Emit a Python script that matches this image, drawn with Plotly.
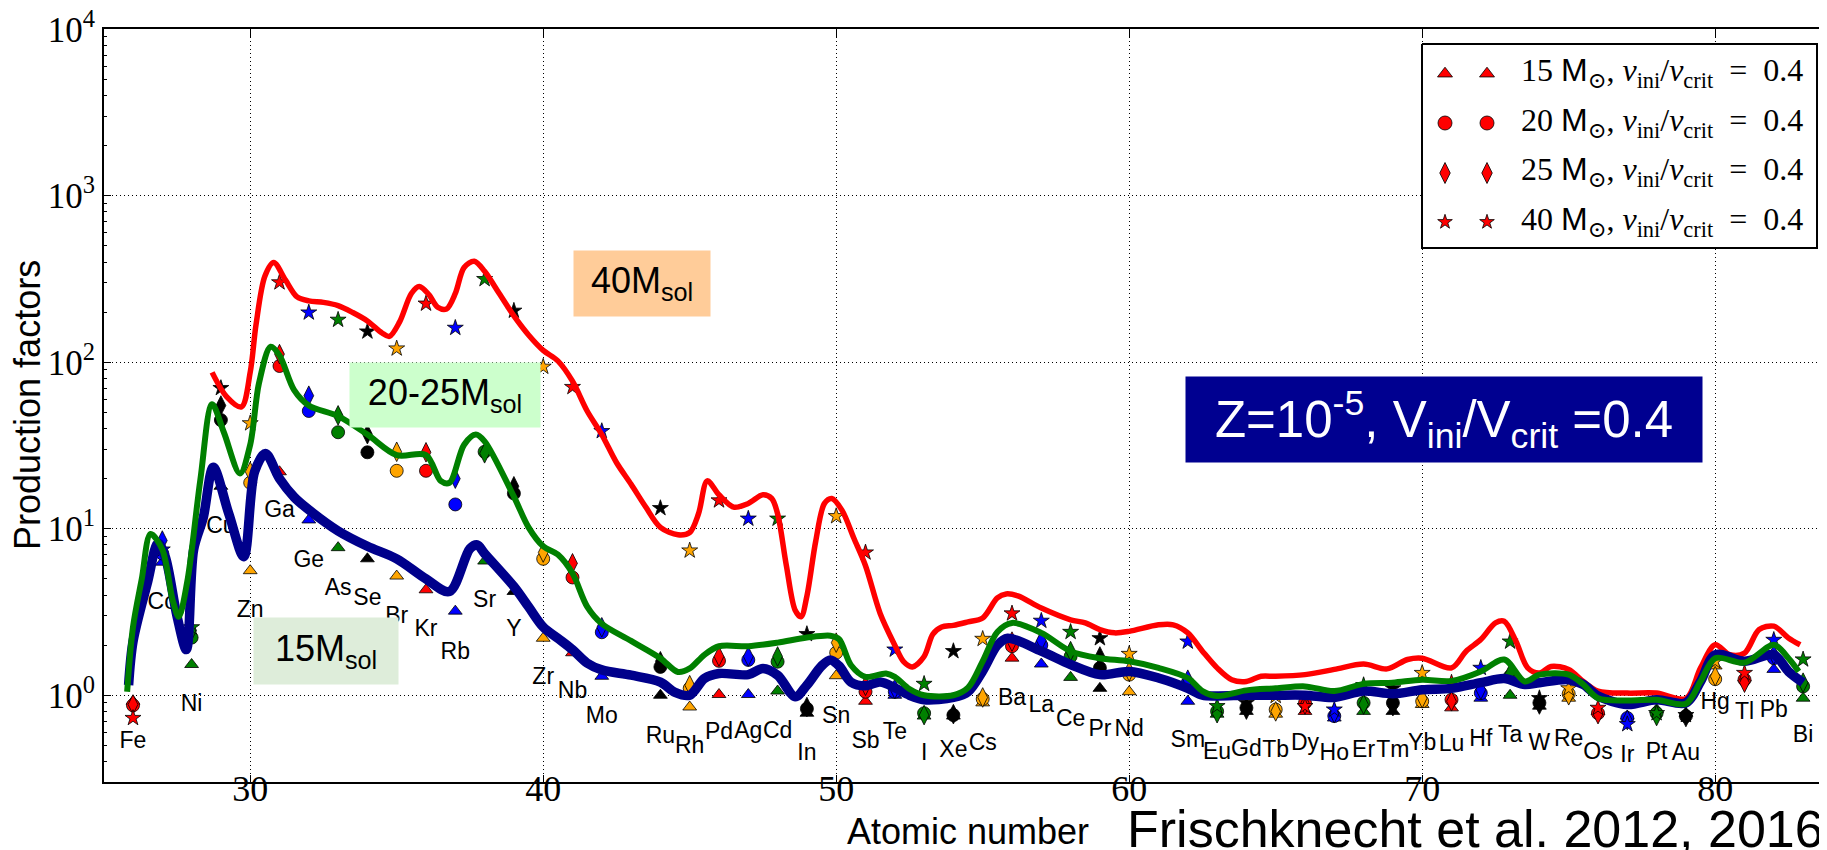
import math
import plotly.graph_objects as go

W, H = 1827, 850
# plot-area frame in pixels (left, right, top, bottom)
PL, PR, PT, PB = 95.7, 1824.4, 21.0, 774.3

elements = ["Fe", "Co", "Ni", "Cu", "Zn", "Ga", "Ge", "As", "Se", "Br", "Kr", "Rb", "Sr", "Y",
            "Zr", "Nb", "Mo", "Ru", "Rh", "Pd", "Ag", "Cd", "In", "Sn", "Sb", "Te", "I", "Xe",
            "Cs", "Ba", "La", "Ce", "Pr", "Nd", "Sm", "Eu", "Gd", "Tb", "Dy", "Ho", "Er", "Tm",
            "Yb", "Lu", "Hf", "Ta", "W", "Re", "Os", "Ir", "Pt", "Au", "Hg", "Tl", "Pb", "Bi"]
atomic_number = [26, 27, 28, 29, 30, 31, 32, 33, 34, 35, 36, 37, 38, 39, 40, 41, 42, 44, 45, 46,
                 47, 48, 49, 50, 51, 52, 53, 54, 55, 56, 57, 58, 59, 60, 62, 63, 64, 65, 66, 67,
                 68, 69, 70, 71, 72, 73, 74, 75, 76, 77, 78, 79, 80, 81, 82, 83]

# production factors per model (triangles / circles / diamonds / stars)
pf_15 = [0.92, 6.3, 1.53, 18, 5.6, 22, 11.3, 7.7, 6.6, 5.2, 4.3, 3.2, 6.4, 4.2, 2.2, 1.8, 1.3,
         1.0, 0.85, 1.01, 1.01, 1.06, 0.78, 1.31, 0.92, 1.0, 0.75, 0.75, 0.9, 1.67, 1.54, 1.28,
         1.1, 1.05, 0.92, 0.77, 0.8, 0.77, 0.8, 0.73, 0.8, 0.8, 0.88, 0.84, 0.96, 1.0, 0.86,
         0.96, 0.80, 0.75, 0.82, 0.78, 1.5, 1.27, 1.43, 0.96]
pf_20 = [0.87, 7.1, 2.22, 45, 18.9, 95, 51, 38, 28.8, 22.3, 22.3, 14, 29, 16.3, 6.6, 5.1, 2.39,
         1.48, 1.1, 1.61, 1.63, 1.59, 0.83, 1.8, 1.05, 1.05, 0.78, 0.76, 0.95, 1.97, 2.0, 1.71,
         1.46, 1.33, 1.19, 0.80, 0.84, 0.82, 0.9, 0.75, 0.9, 0.9, 0.92, 0.94, 1.03, 1.3, 0.9,
         1.02, 0.78, 0.73, 0.78, 0.75, 1.25, 1.24, 1.67, 1.13]
pf_25 = [0.88, 8.5, 2.45, 55, 22, 112, 63, 48, 37, 29, 28.8, 20, 28.4, 18, 7.2, 6.2, 2.56,
         1.6, 1.15, 1.71, 1.71, 1.71, 0.85, 2.07, 1.14, 1.09, 0.76, 0.77, 0.97, 2.1, 2.13, 1.84,
         1.71, 1.39, 1.24, 0.78, 0.82, 0.80, 0.88, 0.78, 0.88, 0.86, 0.96, 0.92, 1.08, 1.35, 0.88,
         1.0, 0.77, 0.71, 0.75, 0.74, 1.3, 1.19, 1.75, 1.19]
pf_40 = [0.73, 7.5, 2.56, 70, 43, 302, 199, 180, 153, 121, 225, 161, 316, 204, 94, 71, 38.6,
         13.3, 7.4, 14.8, 11.5, 11.5, 2.33, 11.9, 7.2, 1.88, 1.17, 1.84, 2.18, 3.1, 2.8, 2.4,
         2.2, 1.77, 2.1, 0.86, 0.9, 0.99, 0.86, 0.82, 1.15, 1.1, 1.36, 1.19, 1.46, 2.1, 0.96,
         1.1, 0.84, 0.67, 0.78, 0.76, 1.6, 1.36, 2.15, 1.64]
label_y = [0.52, 3.58, 0.87, 10.2, 3.18, 12.8, 6.4, 4.33, 3.75, 2.96, 2.45, 1.8, 3.66, 2.45,
           1.26, 1.04, 0.74, 0.56, 0.49, 0.59, 0.6, 0.6, 0.44, 0.74, 0.52, 0.59, 0.44, 0.46,
           0.51, 0.94, 0.86, 0.71, 0.62, 0.62, 0.53, 0.45, 0.47, 0.46, 0.51, 0.44, 0.46, 0.46,
           0.51, 0.5, 0.54, 0.57, 0.51, 0.54, 0.45, 0.43, 0.45, 0.44, 0.9, 0.78, 0.8, 0.57]

# smoothed trend curves
curve15_x = [25.85, 26, 26.5, 26.85, 27.1, 27.5, 27.82, 28.07, 28.4, 28.74, 29.27, 29.78, 30.15,
             30.52, 31, 31.5, 32, 33, 34, 35, 36, 36.8, 37.5, 37.75, 38, 39, 39.5, 40, 40.5, 41,
             41.5, 42, 43, 44, 44.5, 45, 45.5, 46, 47, 47.5, 48, 48.6, 49, 49.5, 49.8, 50.1, 50.5,
             51, 51.5, 52, 52.5, 53, 54, 54.5, 55, 55.5, 55.85, 57, 58, 59, 60, 61, 62, 62.5, 63,
             64, 65, 66, 67, 68, 69, 70, 71, 72, 72.8, 73.5, 74, 75, 75.5, 76, 77, 78, 79, 79.5,
             80, 81, 82, 82.5, 83]
curve15_y = [1.15, 2.1, 4.8, 8.2, 6.8, 3.0, 1.88, 7.5, 11.7, 23.4, 12.3, 6.8, 22, 28.3, 20, 15.5,
             13, 9.7, 7.85, 6.6, 5.0, 4.2, 7.6, 8.0, 7.1, 4.5, 3.4, 2.57, 2.2, 1.88, 1.56, 1.42,
             1.32, 1.2, 1.04, 1.0, 1.26, 1.35, 1.33, 1.45, 1.32, 0.98, 1.15, 1.5, 1.63, 1.5, 1.2,
             1.14, 1.2, 1.11, 1.0, 0.94, 0.97, 1.05, 1.4, 2.0, 2.2, 1.84, 1.53, 1.33, 1.39, 1.27,
             1.1, 1.0, 0.99, 1.0, 1.0, 1.0, 0.97, 1.06, 1.02, 1.08, 1.1, 1.19, 1.26, 1.16, 1.19,
             1.24, 1.16, 0.99, 0.88, 0.94, 0.9, 1.21, 1.75, 1.6, 1.75, 1.39, 1.19]
curve2025_x = [25.8, 26, 26.3, 26.6, 27.0, 27.35, 27.56, 27.85, 28.3, 28.7, 29.1, 29.65, 30.0,
               30.3, 30.7, 31, 31.5, 32, 33, 34, 35, 36, 36.5, 36.8, 37.3, 37.7, 38, 39, 39.5,
               40, 40.5, 41, 41.5, 42, 43, 44, 44.6, 45, 45.5, 46, 47, 48, 49, 49.8, 50.1, 50.5,
               51, 51.7, 52, 52.5, 53, 54, 54.5, 55, 55.5, 56, 57, 58, 59, 60, 61, 62, 62.5, 63,
               64, 65, 66, 67, 68, 69, 70, 71, 72, 72.8, 73.5, 74, 75, 75.5, 76, 77, 78, 79,
               79.5, 80, 81, 82, 82.5, 82.85]
curve2025_y = [1.05, 2.57, 5.0, 9.3, 7.5, 3.75, 2.96, 4.8, 19.8, 56, 38, 21.5, 32, 75, 124, 110,
               68, 55, 47.5, 36.8, 27.7, 27.7, 19.4, 18.9, 32, 36.8, 33.5, 15.6, 10.2, 7.85, 7.0,
               5.4, 3.41, 2.69, 2.12, 1.67, 1.38, 1.45, 1.75, 1.97, 1.97, 2.07, 2.22, 2.28, 2.17,
               1.52, 1.29, 1.35, 1.29, 1.09, 1.0, 1.0, 1.11, 1.6, 2.4, 2.72, 2.37, 1.84, 1.67,
               1.6, 1.46, 1.27, 1.06, 0.99, 1.07, 1.1, 1.13, 1.06, 1.17, 1.19, 1.24, 1.22, 1.39,
               1.64, 1.21, 1.33, 1.33, 1.16, 0.96, 0.93, 0.94, 0.89, 1.21, 1.67, 1.57, 2.01,
               1.67, 1.39]
curve40_x = [28.7, 29.2, 29.7, 30.0, 30.2, 30.5, 30.8, 31.2, 31.6, 32, 32.5, 33, 33.5, 34, 34.5,
             34.75, 35.1, 35.5, 35.77, 36.1, 36.4, 36.7, 37, 37.3, 37.65, 38, 38.5, 39, 39.5, 40,
             40.5, 41, 41.5, 42, 42.5, 43, 43.5, 44, 44.6, 45, 45.3, 45.6, 46, 46.5, 47, 47.5,
             47.8, 48, 48.3, 48.6, 48.8, 49, 49.3, 49.6, 49.85, 50.2, 50.6, 51, 51.5, 52, 52.3,
             52.6, 53, 53.3, 53.6, 54, 54.5, 55, 55.5, 55.8, 56.2, 57, 58, 58.5, 59, 59.5, 60,
             61, 61.5, 62, 62.5, 63, 63.5, 64, 64.5, 65, 66, 67, 68, 68.8, 69.5, 70, 71, 71.5,
             72, 72.5, 72.8, 73.2, 73.6, 74, 74.4, 75, 75.5, 76, 77, 78, 79, 79.5, 80, 80.5, 81,
             81.5, 82, 82.5, 82.9]
curve40_y = [87, 62, 54, 87, 169, 329, 398, 313, 247, 234, 229, 219, 199, 177, 150, 143, 175,
             259, 285, 255, 214, 209, 259, 371, 405, 352, 259, 190, 146, 118, 102, 77, 51, 36.8,
             25, 18.5, 13.5, 10.2, 9.2, 9.5, 12.3, 19.4, 16, 13.5, 14.2, 16, 15.2, 12.3, 6.0,
             3.24, 2.96, 3.94, 8.4, 14.2, 15.2, 12.9, 8.8, 6.0, 3.1, 2.0, 1.59, 1.48, 1.71, 2.33,
             2.57, 2.63, 2.76, 2.91, 3.84, 4.06, 3.95, 3.34, 2.84, 2.72, 2.48, 2.37, 2.42, 2.65,
             2.65, 2.37, 1.84, 1.46, 1.24, 1.21, 1.3, 1.3, 1.33, 1.43, 1.54, 1.44, 1.64, 1.67,
             1.46, 1.84, 2.16, 2.72, 2.78, 2.11, 1.46, 1.36, 1.49, 1.43, 1.21, 1.06, 1.03, 1.03,
             0.955, 1.46, 2.01, 1.75, 1.79, 2.48, 2.6, 2.21, 2.01]

model_names = ["15", "20", "25", "40"]
palette = ["#FF0000", "#0000FF", "#008000", "#000000", "#FFA500"]
point_colors = [palette[(z - 26) % 5] for z in atomic_number]

LABEL_FONT = "Liberation Sans, Arial, sans-serif"
SERIF = "Liberation Serif, DejaVu Serif, serif"


def px(xp):
    return xp / W


def py(yp):
    return 1 - yp / H


fig = go.Figure()

# element names (under the curves)
fig.add_trace(go.Scatter(x=atomic_number, y=label_y, mode="text", text=elements,
                         textposition="middle center",
                         textfont=dict(family=LABEL_FONT, size=23, color="black"),
                         hoverinfo="skip", showlegend=False))

marker_specs = [(pf_15, "triangle-up", 12), (pf_20, "circle", 13),
                (pf_25, "diamond-tall", 14), (pf_40, "star", 12)]
for vals, sym, size in marker_specs:
    fig.add_trace(go.Scatter(x=atomic_number, y=vals, mode="markers",
                             marker=dict(symbol=sym, size=size, color=point_colors,
                                         line=dict(color="black", width=0.8)),
                             showlegend=False))

for cx, cy, col, wid in [(curve40_x, curve40_y, "#FF0000", 5.5),
                         (curve15_x, curve15_y, "#00008B", 9.5),
                         (curve2025_x, curve2025_y, "#008000", 6)]:
    fig.add_trace(go.Scatter(x=cx, y=cy, mode="lines",
                             line=dict(color=col, width=wid, shape="spline", smoothing=0.9),
                             showlegend=False))

# custom legend (two sample markers per entry, like the original)
LEG = dict(l=1414, r=1809, t=36, b=240)
fig.add_trace(go.Scatter(x=[LEG["l"], LEG["r"], LEG["r"], LEG["l"], LEG["l"]],
                         y=[LEG["t"], LEG["t"], LEG["b"], LEG["b"], LEG["t"]],
                         mode="lines", fill="toself", fillcolor="white",
                         line=dict(color="black", width=2), xaxis="x2", yaxis="y2",
                         hoverinfo="skip", showlegend=False))
row_y = [65.7, 115, 165, 214]
legend_sizes = [13, 14, 15, 11]
for (vals, sym, size), lsz, ry in zip(marker_specs, legend_sizes, row_y):
    fig.add_trace(go.Scatter(x=[1437, 1479], y=[ry, ry], mode="markers",
                             marker=dict(symbol=sym, size=lsz, color="#FF0000",
                                         line=dict(color="black", width=0.8)),
                             xaxis="x2", yaxis="y2", hoverinfo="skip", showlegend=False))

minor_vals = [m * 10 ** e for e in range(-1, 4) for m in range(2, 10) if m * 10 ** e >= 0.3]

fig.update_layout(
    width=W, height=H, margin=dict(l=0, r=0, t=0, b=0, autoexpand=False),
    paper_bgcolor="white", plot_bgcolor="rgba(0,0,0,0)",
    showlegend=False,
    xaxis=dict(domain=[px(PL), px(PR)], range=[25, 84], tickvals=[30, 40, 50, 60, 70, 80],
               ticks="inside", ticklen=8, tickwidth=1, tickcolor="black", mirror="ticks",
               showline=True, linecolor="black", linewidth=1.5, ticklabelstandoff=-26,
               ticklabeloverflow="allow", automargin=False,
               showgrid=True, gridcolor="black", gridwidth=1, griddash="1px,3px",
               zeroline=False, tickfont=dict(family=SERIF, size=36, color="black")),
    yaxis=dict(domain=[py(PB), py(PT)], type="log", range=[math.log10(0.3), 4.002],
               tickvals=[1, 10, 100, 1000, 10000],
               ticktext=["10<sup>0</sup>", "10<sup>1</sup>", "10<sup>2</sup>",
                         "10<sup>3</sup>", "10<sup>4</sup>"],
               ticks="inside", ticklen=8, tickwidth=1, tickcolor="black", mirror="ticks",
               showline=True, linecolor="black", linewidth=1.5, ticklabeloverflow="allow",
               automargin=False,
               showgrid=True, gridcolor="black", gridwidth=1, griddash="1px,3px",
               zeroline=False, tickfont=dict(family=SERIF, size=35, color="black"),
               minor=dict(tickvals=minor_vals, ticks="inside", ticklen=4, tickcolor="black",
                          showgrid=False)),
    xaxis2=dict(domain=[0, 1], range=[0, W], anchor="y2", visible=False, fixedrange=True,
                automargin=False),
    yaxis2=dict(domain=[0, 1], range=[H, 0], anchor="x2", visible=False, fixedrange=True,
                automargin=False),
)

ann = []
# axis titles
ann.append(dict(text="Atomic number", x=px(959.5), y=py(823), xref="paper", yref="paper",
                showarrow=False, xanchor="center", yanchor="middle",
                font=dict(family=LABEL_FONT, size=36, color="black")))
ann.append(dict(text="Production factors", x=px(19), y=py(397), xref="paper", yref="paper",
                showarrow=False, xanchor="center", yanchor="middle", textangle=-90,
                font=dict(family=LABEL_FONT, size=36, color="black")))
# reference text
ann.append(dict(text="Frischknecht et al. 2012, 2016", x=px(1117), y=py(821), xref="paper",
                yref="paper", showarrow=False, xanchor="left", yanchor="middle",
                font=dict(family=LABEL_FONT, size=52, color="black")))

# coloured boxes
boxes = [
    ("40M<sub>sol</sub>", 566, 702, 243, 307.5, "#FFCC99", "black", 36),
    ("20-25M<sub>sol</sub>", 342, 532, 355, 419, "#CCFFCC", "black", 36),
    ("15M<sub>sol</sub>", 246, 390, 610.5, 676, "#DEEDDA", "black", 36),
    ("Z=10<sup>-5</sup>, V<sub>ini</sub>/V<sub>crit</sub> =0.4", 1178, 1694, 369, 454,
     "#000090", "white", 51),
]
for text, x0, x1, y0, y1, bg, fc, fs in boxes:
    ann.append(dict(text=text, x=px((x0 + x1) / 2), y=py((y0 + y1) / 2), xref="paper",
                    yref="paper", showarrow=False, xanchor="center", yanchor="middle",
                    width=x1 - x0, height=y1 - y0, bgcolor=bg, borderpad=0, align="center",
                    valign="middle", font=dict(family=LABEL_FONT, size=fs, color=fc)))

# legend texts
for name, ry in zip(model_names, row_y):
    ann.append(dict(
        text=(name + " <span style=\"font-family:Liberation Sans\">M</span><sub>⊙</sub>, "
              "<i>v</i><sub>ini</sub>/<i>v</i><sub>crit</sub>\u2002=\u20020.4"),
        x=px(1511), y=py(ry - 1), xref="paper", yref="paper", showarrow=False,
        xanchor="left", yanchor="middle", font=dict(family=SERIF, size=32, color="black")))

fig.update_layout(annotations=ann)
fig.write_html("out.html")
